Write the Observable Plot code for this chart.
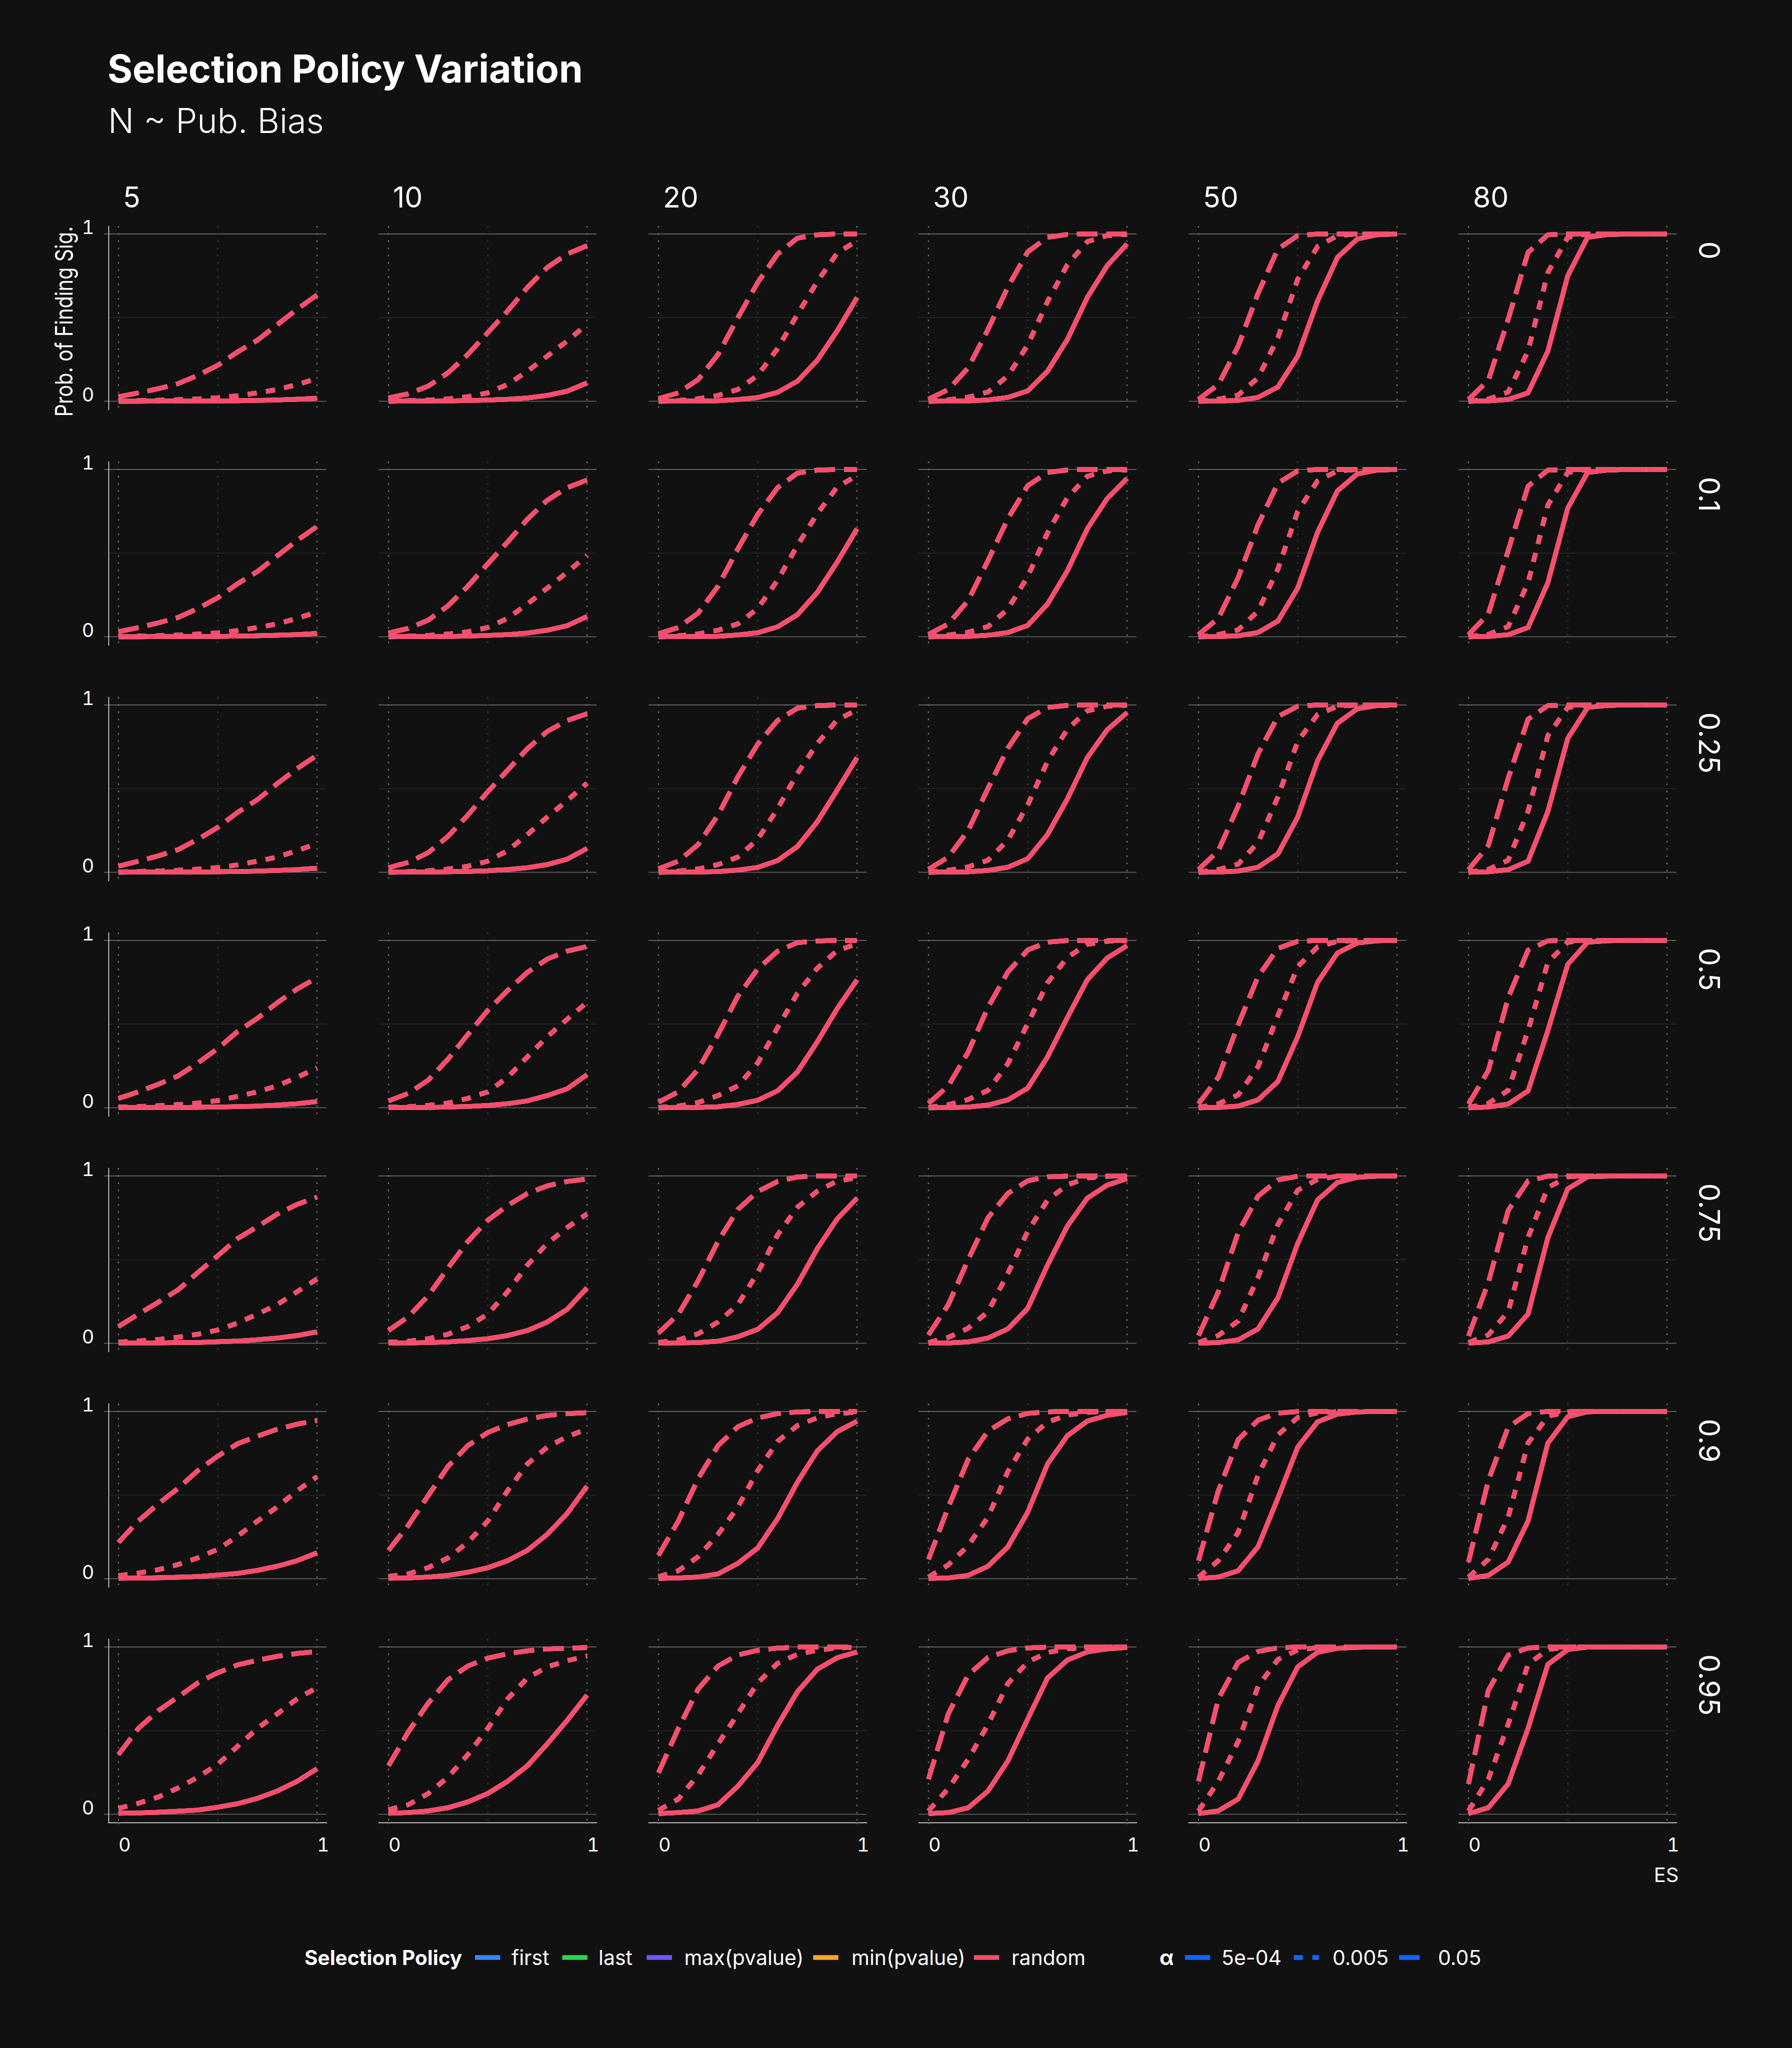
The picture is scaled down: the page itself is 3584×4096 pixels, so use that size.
<!DOCTYPE html>
<html><head><meta charset="utf-8">
<script src="https://cdn.jsdelivr.net/npm/d3@7"></script>
<script src="https://cdn.jsdelivr.net/npm/@observablehq/plot@0.6"></script>
<style>
html,body{margin:0;padding:0;background:#111111;}
#wrap{position:relative;width:3584px;height:4096px;background:#111111;overflow:hidden;font-family:Inter,"Noto Sans",sans-serif;color:#fff}
</style></head>
<body><div id="wrap"></div>
<script>
// ---- categories ----
const biases = [0, 0.1, 0.25, 0.5, 0.75, 0.9, 0.95];
const Ns = [5, 10, 20, 30, 50, 80];
const esValues = [0, 0.1, 0.2, 0.3, 0.4, 0.5, 0.6, 0.7, 0.8, 0.9, 1];
const policies = ["first", "last", "max(pvalue)", "min(pvalue)", "random"];
const policyColors = ["#3a86ff", "#2fd44f", "#6c5cff", "#ffa630", "#ff4b6e"];
const alphaLevels = ["5e-04", "0.005", "0.05"];
const yTicks = [0, 1];
const xTicks = [0, 1];

// ---- values: per pub. bias and alpha, one row per N (5,10,20,30,50,80), one value per ES ----
// (the five selection policies coincide within the line width)
const pb0_alpha5e04 = [
 [0,0,0.001,0.001,0.001,0.002,0.003,0.005,0.008,0.012,0.018],
 [0,0.001,0.001,0.002,0.004,0.007,0.012,0.02,0.035,0.06,0.11],
 [0,0.001,0.001,0.003,0.01,0.022,0.053,0.12,0.245,0.42,0.62],
 [0,0.001,0.002,0.008,0.023,0.062,0.18,0.37,0.62,0.81,0.94],
 [0,0.001,0.005,0.023,0.085,0.27,0.6,0.86,0.97,0.995,1],
 [0,0.002,0.011,0.05,0.3,0.75,0.98,0.996,1,1,1]];
const pb0_alpha0005 = [
 [0.002,0.004,0.006,0.009,0.014,0.021,0.033,0.05,0.07,0.1,0.135],
 [0.001,0.003,0.007,0.014,0.027,0.05,0.1,0.18,0.27,0.36,0.46],
 [0.001,0.005,0.015,0.035,0.07,0.155,0.315,0.52,0.715,0.885,0.96],
 [0.001,0.009,0.024,0.055,0.152,0.336,0.597,0.817,0.954,0.99,0.998],
 [0.001,0.012,0.037,0.14,0.38,0.73,0.925,0.99,1,1,1],
 [0.001,0.013,0.055,0.3,0.77,0.98,1,1,1,1,1]];
const pb0_alpha005 = [
 [0.027,0.05,0.075,0.105,0.155,0.215,0.295,0.365,0.458,0.55,0.635],
 [0.02,0.045,0.09,0.17,0.28,0.41,0.54,0.68,0.8,0.88,0.93],
 [0.016,0.05,0.13,0.28,0.5,0.71,0.88,0.975,0.995,1,1],
 [0.013,0.07,0.2,0.43,0.683,0.893,0.98,0.997,1,1,1],
 [0.012,0.1,0.33,0.645,0.91,0.99,1,1,1,1,1],
 [0.011,0.125,0.49,0.89,0.995,1,1,1,1,1,1]];

const pb01_alpha5e04 = [
 [0,0,0.001,0.001,0.001,0.002,0.004,0.006,0.009,0.013,0.02],
 [0,0.001,0.001,0.002,0.004,0.008,0.013,0.022,0.039,0.066,0.121],
 [0,0.001,0.001,0.003,0.011,0.024,0.059,0.132,0.265,0.446,0.645],
 [0,0.001,0.002,0.009,0.025,0.068,0.196,0.395,0.645,0.826,0.946],
 [0,0.001,0.006,0.025,0.094,0.291,0.625,0.872,0.973,0.996,1],
 [0,0.002,0.012,0.055,0.323,0.769,0.982,0.996,1,1,1]];
const pb01_alpha0005 = [
 [0.002,0.004,0.006,0.01,0.016,0.023,0.037,0.055,0.077,0.11,0.148],
 [0.002,0.003,0.008,0.016,0.03,0.055,0.11,0.196,0.291,0.385,0.486],
 [0.001,0.006,0.017,0.039,0.077,0.169,0.338,0.546,0.736,0.895,0.964],
 [0.001,0.01,0.027,0.061,0.166,0.36,0.622,0.832,0.959,0.991,0.998],
 [0.001,0.013,0.041,0.153,0.405,0.75,0.932,0.991,1,1,1],
 [0.001,0.014,0.061,0.323,0.788,0.982,1,1,1,1,1]];
const pb01_alpha005 = [
 [0.03,0.055,0.083,0.115,0.169,0.233,0.317,0.39,0.484,0.576,0.659],
 [0.022,0.05,0.099,0.185,0.302,0.436,0.566,0.703,0.816,0.891,0.937],
 [0.018,0.055,0.142,0.302,0.526,0.731,0.891,0.978,0.996,1,1],
 [0.014,0.077,0.217,0.456,0.706,0.903,0.982,0.997,1,1,1],
 [0.013,0.11,0.354,0.669,0.918,0.991,1,1,1,1,1],
 [0.012,0.137,0.516,0.9,0.996,1,1,1,1,1,1]];

const pb025_alpha5e04 = [
 [0,0.001,0.001,0.001,0.002,0.003,0.004,0.007,0.011,0.016,0.024],
 [0,0.001,0.001,0.003,0.005,0.009,0.016,0.027,0.046,0.078,0.142],
 [0,0.001,0.001,0.004,0.013,0.029,0.07,0.154,0.302,0.491,0.685],
 [0,0.001,0.003,0.011,0.03,0.081,0.226,0.439,0.685,0.851,0.954],
 [0,0.001,0.007,0.03,0.11,0.33,0.667,0.891,0.977,0.996,1],
 [0,0.003,0.015,0.066,0.364,0.8,0.985,0.997,1,1,1]];
const pb025_alpha0005 = [
 [0.002,0.005,0.008,0.012,0.019,0.028,0.044,0.066,0.091,0.129,0.172],
 [0.002,0.004,0.009,0.019,0.036,0.066,0.129,0.226,0.33,0.429,0.532],
 [0.002,0.007,0.02,0.046,0.091,0.197,0.38,0.591,0.77,0.911,0.97],
 [0.001,0.012,0.032,0.072,0.193,0.403,0.664,0.856,0.965,0.992,0.999],
 [0.001,0.016,0.049,0.178,0.45,0.783,0.943,0.992,1,1,1],
 [0.001,0.017,0.072,0.364,0.817,0.985,1,1,1,1,1]];
const pb025_alpha005 = [
 [0.036,0.066,0.098,0.135,0.197,0.268,0.358,0.434,0.53,0.62,0.699],
 [0.027,0.059,0.117,0.215,0.342,0.481,0.61,0.739,0.842,0.907,0.947],
 [0.021,0.066,0.166,0.342,0.571,0.766,0.907,0.981,0.996,1,1],
 [0.017,0.091,0.25,0.502,0.742,0.918,0.985,0.998,1,1,1],
 [0.016,0.129,0.396,0.708,0.931,0.992,1,1,1,1,1],
 [0.015,0.16,0.562,0.915,0.996,1,1,1,1,1,1]];

const pb05_alpha5e04 = [
 [0.001,0.001,0.001,0.002,0.003,0.004,0.007,0.01,0.016,0.024,0.037],
 [0.001,0.001,0.002,0.004,0.008,0.014,0.024,0.041,0.073,0.113,0.198],
 [0,0.001,0.002,0.006,0.02,0.045,0.101,0.214,0.394,0.592,0.765],
 [0,0.001,0.004,0.016,0.047,0.117,0.305,0.54,0.765,0.895,0.969],
 [0,0.002,0.01,0.047,0.157,0.425,0.75,0.925,0.985,0.998,1],
 [0,0.004,0.022,0.101,0.462,0.857,0.99,0.998,1,1,1]];
const pb05_alpha0005 = [
 [0.004,0.007,0.012,0.019,0.028,0.043,0.068,0.095,0.131,0.182,0.238],
 [0.003,0.006,0.014,0.028,0.056,0.095,0.182,0.305,0.425,0.529,0.63],
 [0.002,0.01,0.031,0.073,0.131,0.268,0.479,0.684,0.834,0.939,0.98],
 [0.002,0.018,0.049,0.104,0.264,0.503,0.748,0.899,0.977,0.995,0.999],
 [0.002,0.024,0.077,0.246,0.551,0.844,0.961,0.995,1,1,1],
 [0.002,0.026,0.104,0.462,0.87,0.99,1,1,1,1,1]];
const pb05_alpha005 = [
 [0.056,0.095,0.14,0.19,0.268,0.354,0.456,0.535,0.628,0.71,0.777],
 [0.041,0.086,0.165,0.291,0.438,0.582,0.701,0.81,0.889,0.936,0.964],
 [0.033,0.095,0.23,0.438,0.667,0.83,0.936,0.987,0.997,1,1],
 [0.026,0.131,0.333,0.601,0.812,0.943,0.99,0.999,1,1,1],
 [0.024,0.182,0.496,0.784,0.953,0.995,1,1,1,1,1],
 [0.022,0.222,0.658,0.942,0.998,1,1,1,1,1,1]];

const pb075_alpha5e04 = [
 [0.001,0.002,0.002,0.004,0.005,0.009,0.013,0.021,0.031,0.046,0.068],
 [0.001,0.002,0.004,0.008,0.016,0.027,0.046,0.076,0.127,0.203,0.331],
 [0.001,0.002,0.004,0.012,0.039,0.083,0.183,0.353,0.565,0.743,0.867],
 [0.001,0.002,0.008,0.031,0.086,0.209,0.468,0.701,0.867,0.945,0.984],
 [0.001,0.004,0.02,0.086,0.271,0.597,0.857,0.961,0.992,0.999,1],
 [0.001,0.008,0.043,0.174,0.632,0.923,0.995,0.999,1,1,1]];
const pb075_alpha0005 = [
 [0.007,0.014,0.022,0.036,0.054,0.079,0.121,0.174,0.231,0.308,0.384],
 [0.006,0.012,0.027,0.054,0.1,0.174,0.308,0.468,0.597,0.692,0.773],
 [0.005,0.02,0.057,0.127,0.231,0.423,0.648,0.813,0.909,0.969,0.99],
 [0.004,0.035,0.09,0.189,0.418,0.669,0.856,0.947,0.988,0.998,1],
 [0.004,0.046,0.133,0.394,0.71,0.915,0.98,0.998,1,1,1],
 [0.004,0.05,0.189,0.632,0.931,0.995,1,1,1,1,1]];
const pb075_alpha005 = [
 [0.1,0.174,0.245,0.319,0.423,0.523,0.626,0.697,0.772,0.83,0.874],
 [0.076,0.159,0.284,0.45,0.609,0.735,0.824,0.895,0.941,0.967,0.982],
 [0.061,0.174,0.374,0.609,0.8,0.907,0.967,0.994,0.999,1,1],
 [0.05,0.231,0.5,0.751,0.896,0.971,0.995,0.999,1,1,1],
 [0.046,0.308,0.663,0.879,0.976,0.998,1,1,1,1,1],
 [0.043,0.364,0.794,0.97,0.999,1,1,1,1,1,1]];

const pb09_alpha5e04 = [
 [0.003,0.004,0.006,0.009,0.013,0.022,0.032,0.05,0.075,0.108,0.155],
 [0.003,0.005,0.01,0.02,0.039,0.066,0.108,0.17,0.266,0.39,0.553],
 [0.002,0.005,0.01,0.029,0.092,0.184,0.359,0.577,0.764,0.879,0.942],
 [0.002,0.005,0.02,0.075,0.191,0.398,0.687,0.855,0.942,0.977,0.994],
 [0.002,0.01,0.048,0.191,0.482,0.787,0.938,0.984,0.997,1,1],
 [0.002,0.02,0.1,0.345,0.811,0.968,0.998,1,1,1,1]];
const pb09_alpha0005 = [
 [0.018,0.034,0.054,0.085,0.125,0.176,0.255,0.345,0.429,0.526,0.61],
 [0.014,0.029,0.066,0.125,0.218,0.345,0.526,0.687,0.787,0.849,0.895],
 [0.012,0.048,0.132,0.266,0.429,0.647,0.821,0.916,0.962,0.987,0.996],
 [0.01,0.083,0.198,0.369,0.642,0.835,0.937,0.978,0.995,0.999,1],
 [0.01,0.108,0.277,0.62,0.86,0.964,0.992,0.999,1,1,1],
 [0.01,0.116,0.368,0.811,0.971,0.998,1,1,1,1,1]];
const pb09_alpha005 = [
 [0.218,0.345,0.448,0.54,0.647,0.733,0.807,0.852,0.894,0.924,0.946],
 [0.17,0.32,0.497,0.672,0.796,0.874,0.922,0.955,0.976,0.987,0.993],
 [0.14,0.345,0.599,0.796,0.909,0.961,0.987,0.997,1,1,1],
 [0.116,0.429,0.714,0.883,0.956,0.988,0.998,1,1,1,1],
 [0.108,0.526,0.831,0.948,0.99,0.999,1,1,1,1,1],
 [0.1,0.588,0.906,0.988,1,1,1,1,1,1,1]];

const pb095_alpha5e04 = [
 [0.006,0.008,0.012,0.018,0.025,0.042,0.063,0.095,0.139,0.197,0.272],
 [0.006,0.01,0.02,0.039,0.074,0.124,0.197,0.29,0.421,0.561,0.712],
 [0.004,0.01,0.02,0.057,0.168,0.309,0.531,0.732,0.867,0.935,0.97],
 [0.004,0.01,0.039,0.139,0.319,0.569,0.815,0.922,0.97,0.988,0.997],
 [0.004,0.02,0.091,0.319,0.65,0.881,0.968,0.992,0.998,1,1],
 [0.004,0.039,0.182,0.513,0.896,0.984,0.999,1,1,1,1]];
const pb095_alpha0005 = [
 [0.035,0.066,0.103,0.157,0.222,0.299,0.406,0.513,0.601,0.69,0.757],
 [0.027,0.057,0.124,0.222,0.357,0.513,0.69,0.815,0.881,0.918,0.945],
 [0.023,0.091,0.236,0.421,0.601,0.786,0.902,0.956,0.981,0.994,0.998],
 [0.02,0.154,0.328,0.538,0.782,0.91,0.967,0.989,0.998,1,1],
 [0.02,0.197,0.435,0.765,0.925,0.982,0.996,1,1,1,1],
 [0.02,0.21,0.538,0.896,0.985,0.999,1,1,1,1,1]];
const pb095_alpha005 = [
 [0.357,0.513,0.619,0.701,0.786,0.846,0.893,0.92,0.944,0.961,0.972],
 [0.29,0.493,0.664,0.804,0.886,0.933,0.959,0.977,0.988,0.993,0.996],
 [0.248,0.513,0.749,0.886,0.952,0.98,0.993,0.999,1,1,1],
 [0.21,0.601,0.833,0.938,0.977,0.994,0.999,1,1,1,1],
 [0.197,0.69,0.908,0.973,0.995,1,1,1,1,1,1],
 [0.182,0.741,0.951,0.994,1,1,1,1,1,1,1]];

// table for the library: bias -> alpha -> arrays
const valueTable = [
  [pb0_alpha5e04, pb0_alpha0005, pb0_alpha005],
  [pb01_alpha5e04, pb01_alpha0005, pb01_alpha005],
  [pb025_alpha5e04, pb025_alpha0005, pb025_alpha005],
  [pb05_alpha5e04, pb05_alpha0005, pb05_alpha005],
  [pb075_alpha5e04, pb075_alpha0005, pb075_alpha005],
  [pb09_alpha5e04, pb09_alpha0005, pb09_alpha005],
  [pb095_alpha5e04, pb095_alpha0005, pb095_alpha005]
];

const rows = [];
biases.forEach((b, bi) => {
  alphaLevels.forEach((a, ai) => {
    Ns.forEach((n, ni) => {
      policies.forEach(pol => {
        esValues.forEach((es, ei) => {
          rows.push({bias: b, alpha: a, N: n, policy: pol, es, p: valueTable[bi][ai][ni][ei]});
        });
      });
    });
  });
});

const dashFor = {"5e-04": null, "0.005": "18 19", "0.05": "41 18"};
const lineMarks = alphaLevels.map(a => Plot.line(rows.filter(d => d.alpha === a), {
  x: "es", y: "p", fx: "N", fy: "bias", z: "policy", stroke: "policy",
  strokeWidth: 9.3, strokeLinecap: "butt", strokeLinejoin: "miter", strokeMiterlimit: 4,
  ...(dashFor[a] ? {strokeDasharray: dashFor[a]} : {})
}));

const headerData = Ns.map(n => ({n, b: biases[0]}));
const rowLabelData = biases.map(b => ({n: Ns[Ns.length - 1], b}));

const chart = Plot.plot({
  width: 3584, height: 3800,
  marginLeft: 216.8, marginRight: 231.2, marginTop: 449, marginBottom: 152.4,
  style: {background: "transparent", color: "#ffffff", fontFamily: "Inter, 'Noto Sans', sans-serif", fontSize: "38px", overflow: "visible"},
  x: {domain: [0, 1], insetLeft: 19.5, insetRight: 19.5},
  y: {domain: [0, 1], insetTop: 15.4, insetBottom: 17},
  fx: {domain: Ns, paddingInner: 104 / 540, paddingOuter: 0, axis: null},
  fy: {domain: biases, paddingInner: 104 / 471.8, paddingOuter: 0, axis: null},
  color: {domain: policies, range: policyColors},
  marks: [
    Plot.ruleY([0.5], {stroke: "#282828", strokeWidth: 1.6}),
    Plot.ruleY(yTicks, {stroke: "#6e6e6e", strokeWidth: 1.6}),
    Plot.ruleX([0.5], {stroke: "#383838", strokeWidth: 2.4, strokeDasharray: "3.2 11.2"}),
    Plot.ruleX(xTicks, {stroke: "#707070", strokeWidth: 2.4, strokeDasharray: "3.2 11.2"}),
    ...lineMarks,
    // axis lines (white) on the outer edges of the grid
    Plot.frame({anchor: "left", facetAnchor: "left", stroke: "#ffffff", strokeWidth: 1.4}),
    Plot.frame({anchor: "bottom", facetAnchor: "bottom", stroke: "#ffffff", strokeWidth: 1.4}),
    // tick marks
    Plot.axisY({ticks: yTicks, tickSize: 9, fill: "none", stroke: "#6e6e6e", strokeWidth: 1.6, label: null}),
    Plot.axisX({ticks: xTicks, tickSize: 9, fill: "none", stroke: "#707070", strokeWidth: 2.4, strokeDasharray: "3.2 11.2", label: null}),
    // tick labels
    Plot.axisY({ticks: yTicks, tickSize: 0, tickPadding: 29, stroke: "none", fill: "#ffffff", fontSize: 38, dy: -12, tickFormat: d => String(d), label: null}),
    Plot.axisX({ticks: xTicks, tickSize: 0, tickPadding: 30.6, stroke: "none", fill: "#ffffff", fontSize: 38, textAnchor: "start", tickFormat: d => String(d), label: null}),
    // facet headers
    Plot.text(headerData, {fx: "n", fy: "b", text: d => String(d.n), frameAnchor: "top-left", textAnchor: "start", lineAnchor: "bottom", dx: 28.5, dy: -38, fontSize: 57, fill: "#ffffff"}),
    Plot.text(rowLabelData, {fx: "n", fy: "b", text: d => String(d.b), frameAnchor: "top-right", textAnchor: "start", lineAnchor: "bottom", rotate: 90, dx: 44.5, dy: 30, fontSize: 58, fill: "#ffffff"}),
    // axis titles
    Plot.text([{n: Ns[0], b: biases[0]}], {fx: "n", fy: "b", text: () => "Prob. of Finding Sig.", frameAnchor: "top-left", textAnchor: "end", lineAnchor: "bottom", rotate: -90, dx: -72.3, dy: 0, fontSize: 48, fill: "#ffffff"}),
    Plot.text([{n: Ns[Ns.length - 1], b: biases[biases.length - 1]}], {fx: "n", fy: "b", text: () => "ES", frameAnchor: "bottom-right", textAnchor: "end", lineAnchor: "bottom", dx: 4, dy: 118, fontSize: 40, fill: "#ffffff"})
  ]
});

chart.style.position = "absolute";
chart.style.left = "0px";
chart.style.top = "0px";
chart.querySelectorAll("text").forEach(t => {
  if (t.textContent === "Prob. of Finding Sig.") {
    t.setAttribute("textLength", "381");
    t.setAttribute("lengthAdjust", "spacingAndGlyphs");
  }
});
const wrap = document.getElementById("wrap");
wrap.appendChild(chart);

// ---- title, subtitle and legend ----
const ov = d3.select(wrap).append("svg")
  .attr("width", 3584).attr("height", 4096)
  .style("position", "absolute").style("left", "0px").style("top", "0px")
  .style("font-family", "Inter, 'Noto Sans', sans-serif");

ov.append("text").attr("x", 215).attr("y", 165).attr("font-size", 76.5).attr("font-weight", 700)
  .attr("fill", "#ffffff").text("Selection Policy Variation");
ov.append("text").attr("x", 216).attr("y", 265.5).attr("font-size", 68.5).attr("font-weight", 300)
  .attr("fill", "#ffffff").text("N ~ Pub. Bias");

const legY = 3930, swY = 3915, swLen = 50.3, swW = 9.7;
ov.append("text").attr("x", 609).attr("y", legY).attr("font-size", 40.5).attr("font-weight", 700).attr("fill", "#fff").text("Selection Policy");
const policySwX = [950.0, 1124.6, 1293.5, 1626.4, 1948.0];
const policyTxtX = [1023, 1197, 1368.5, 1703, 2023];
policies.forEach((p, i) => {
  ov.append("line").attr("x1", policySwX[i]).attr("x2", policySwX[i] + swLen).attr("y1", swY).attr("y2", swY)
    .attr("stroke", policyColors[i]).attr("stroke-width", swW);
  ov.append("text").attr("x", policyTxtX[i]).attr("y", legY).attr("font-size", 41).attr("fill", "#fff").text(p);
});
ov.append("text").attr("x", 2319).attr("y", legY).attr("font-size", 41).attr("font-weight", 700).attr("fill", "#fff").text("α");
const alphaSwX = [2370.2, 2587.8, 2798.2];
const alphaTxtX = [2443, 2665, 2876];
alphaLevels.forEach((a, i) => {
  const l = ov.append("line").attr("x1", alphaSwX[i]).attr("x2", alphaSwX[i] + swLen).attr("y1", swY).attr("y2", swY)
    .attr("stroke", "#1067ff").attr("stroke-width", swW);
  if (dashFor[a]) l.attr("stroke-dasharray", dashFor[a]);
  ov.append("text").attr("x", alphaTxtX[i]).attr("y", legY).attr("font-size", 41).attr("fill", "#fff").text(a);
});
</script>
</body></html>
